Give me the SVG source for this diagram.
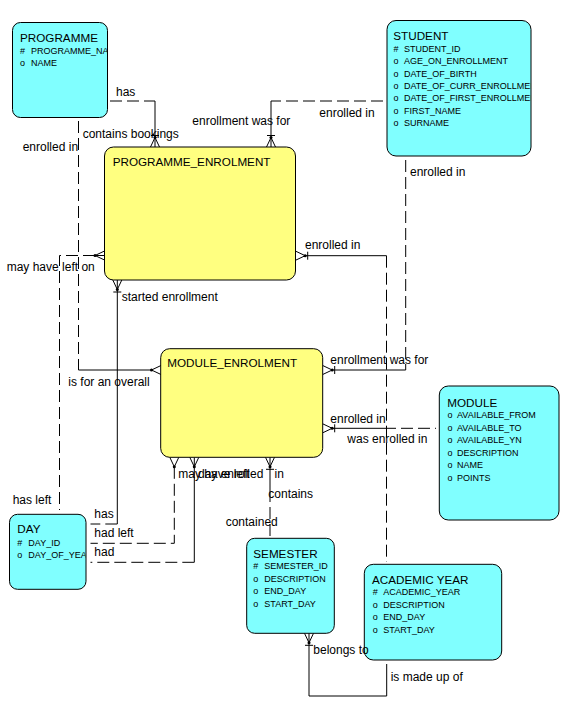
<svg xmlns="http://www.w3.org/2000/svg" width="570" height="705" viewBox="0 0 570 705">
<style>
.ec{fill:#80ffff;stroke:#000;stroke-width:1}
.ey{fill:#ffff80;stroke:#000;stroke-width:1}
text{font-family:"Liberation Sans",Arial,sans-serif;fill:#000}
.t{font-size:11.7px}
.a{font-size:9px}
.l{font-size:12px}
.s{stroke:#000;stroke-width:1;fill:none}
.d{stroke:#000;stroke-width:1;fill:none;stroke-dasharray:12 5}
</style>
<defs>
<clipPath id="cpP"><rect x="12" y="22" width="95" height="95"/></clipPath>
<clipPath id="cpS"><rect x="387" y="20" width="143.5" height="136"/></clipPath>
<clipPath id="cpD"><rect x="9" y="514" width="76.5" height="75"/></clipPath>
</defs>
<rect width="570" height="705" fill="#fff"/>

<g id="connectors">
<!-- PROGRAMME - PE -->
<path class="d" d="M110 101H155"/>
<path class="s" d="M155 101V137.5M150.5 147L155 137.5L159.5 147M155 137.5V147M151 135.5H159"/>
<circle cx="155" cy="137.5" r="1.5"/>
<!-- STUDENT - PE -->
<path class="d" d="M383 101H271"/>
<path class="s" d="M271 101V137.5M266.5 147L271 137.5L275.5 147M271 137.5V147M267 135.5H275"/>
<circle cx="271" cy="137.5" r="1.5"/>
<!-- PROGRAMME - ME -->
<path class="d" d="M78.5 121V370"/>
<path class="s" d="M78.5 370H151.5M161 365.5L151.5 370L161 374.5"/>
<circle cx="151.5" cy="370" r="1.5"/>
<!-- PE - DAY may have left on -->
<path class="d" d="M95 255.5H59.5V510"/>
<path class="s" d="M104.5 251L95 255.5L104.5 260M95 255.5H104.5"/>
<circle cx="95" cy="255.5" r="1.5"/>
<!-- PE - DAY started enrollment -->
<path class="s" d="M117.3 280V524M112.8 280L117.3 289.5L121.8 280M113.3 292H121.3"/>
<circle cx="117.3" cy="289.5" r="1.5"/>
<path class="d" d="M117.3 524H90.5"/>
<!-- STUDENT - ME -->
<path class="d" d="M405.7 160V370"/>
<path class="s" d="M405.7 370H332.2M322.7 365.5L332.2 370L322.7 374.5M334.7 366V374"/>
<circle cx="332.2" cy="370" r="1.5"/>
<!-- PE - ACADEMIC YEAR -->
<path class="s" d="M386.5 255.7H305.2M295.7 251.2L305.2 255.7L295.7 260.2M307.7 251.7V259.7"/>
<circle cx="305.2" cy="255.7" r="1.5"/>
<path class="d" d="M386.5 255.7V562"/>
<!-- ME - MODULE -->
<path class="s" d="M384 428.3H332.2M322.7 423.8L332.2 428.3L322.7 432.8M334.7 424.3V432.3"/>
<circle cx="332.2" cy="428.3" r="1.5"/>
<path class="d" d="M384 428.3H436"/>
<!-- ME - DAY may have left -->
<path class="s" d="M169.8 457.3L174.3 466.8L178.8 457.3"/>
<circle cx="174.3" cy="466.8" r="1.5"/>
<path class="d" d="M174.3 466.8V543.3H90.5"/>
<!-- ME - DAY day enrolled -->
<path class="s" d="M194.3 457.3V562.3M189.8 457.3L194.3 466.8L198.8 457.3"/>
<circle cx="194.3" cy="466.8" r="1.5"/>
<path class="d" d="M194.3 562.3H90.5"/>
<!-- ME - SEMESTER -->
<path class="s" d="M270 457.3V490M265.5 457.3L270 466.8L274.5 457.3M266 469.3H274"/>
<circle cx="270" cy="466.8" r="1.5"/>
<path class="d" d="M270 490V538"/>
<!-- SEMESTER - ACADEMIC YEAR -->
<path class="s" d="M309 633.3V696H386.7V664M304.5 633.3L309 642.8L313.5 633.3M305 645.3H313"/>
<circle cx="309" cy="642.8" r="1.5"/>
</g>

<g id="PROGRAMME">
<rect class="ec" x="12.5" y="22.5" width="95" height="95" rx="8"/>
<text class="t" x="20" y="41.5">PROGRAMME</text>
<g clip-path="url(#cpP)">
<text class="a" x="20" y="54">#</text><text class="a" x="31" y="54">PROGRAMME_NAME</text>
<text class="a" x="20" y="66">o</text><text class="a" x="31" y="66">NAME</text>
</g>
</g>

<g id="STUDENT">
<rect class="ec" x="387" y="20.5" width="144" height="135.5" rx="9"/>
<text class="t" x="393.3" y="40">STUDENT</text>
<g clip-path="url(#cpS)">
<text class="a" x="393.5" y="52">#</text><text class="a" x="404" y="52">STUDENT_ID</text>
<text class="a" x="393.5" y="64.3">o</text><text class="a" x="404" y="64.3">AGE_ON_ENROLLMENT</text>
<text class="a" x="393.5" y="76.6">o</text><text class="a" x="404" y="76.6">DATE_OF_BIRTH</text>
<text class="a" x="393.5" y="88.9">o</text><text class="a" x="404" y="88.9">DATE_OF_CURR_ENROLLMENT</text>
<text class="a" x="393.5" y="101.2">o</text><text class="a" x="404" y="101.2">DATE_OF_FIRST_ENROLLMENT</text>
<text class="a" x="393.5" y="113.5">o</text><text class="a" x="404" y="113.5">FIRST_NAME</text>
<text class="a" x="393.5" y="125.8">o</text><text class="a" x="404" y="125.8">SURNAME</text>
</g>
</g>

<g id="PROGRAMME_ENROLMENT">
<rect class="ey" x="104.5" y="147" width="191" height="133" rx="9"/>
<text class="t" x="112.7" y="166">PROGRAMME_ENROLMENT</text>
</g>

<g id="MODULE_ENROLMENT">
<rect class="ey" x="160.7" y="348.7" width="162" height="108.6" rx="9"/>
<text class="t" x="167.3" y="367">MODULE_ENROLMENT</text>
</g>

<g id="MODULE">
<rect class="ec" x="439.3" y="386" width="119.7" height="134" rx="9"/>
<text class="t" x="447.3" y="407">MODULE</text>
<text class="a" x="447.5" y="418">o</text><text class="a" x="457" y="418">AVAILABLE_FROM</text>
<text class="a" x="447.5" y="430.6">o</text><text class="a" x="457" y="430.6">AVAILABLE_TO</text>
<text class="a" x="447.5" y="443.2">o</text><text class="a" x="457" y="443.2">AVAILABLE_YN</text>
<text class="a" x="447.5" y="455.8">o</text><text class="a" x="457" y="455.8">DESCRIPTION</text>
<text class="a" x="447.5" y="468.4">o</text><text class="a" x="457" y="468.4">NAME</text>
<text class="a" x="447.5" y="481">o</text><text class="a" x="457" y="481">POINTS</text>
</g>

<g id="DAY">
<rect class="ec" x="9.5" y="514.3" width="76.5" height="75" rx="8"/>
<text class="t" x="17.3" y="533">DAY</text>
<g clip-path="url(#cpD)">
<text class="a" x="17.3" y="545.6">#</text><text class="a" x="28.3" y="545.6">DAY_ID</text>
<text class="a" x="17.3" y="557.6">o</text><text class="a" x="28.3" y="557.6">DAY_OF_YEAR</text>
</g>
</g>

<g id="SEMESTER">
<rect class="ec" x="246.7" y="538.3" width="87.6" height="95" rx="8"/>
<text class="t" x="253.3" y="558">SEMESTER</text>
<text class="a" x="253.3" y="569.3">#</text><text class="a" x="264.3" y="569.3">SEMESTER_ID</text>
<text class="a" x="253.3" y="581.7">o</text><text class="a" x="264.3" y="581.7">DESCRIPTION</text>
<text class="a" x="253.3" y="594.1">o</text><text class="a" x="264.3" y="594.1">END_DAY</text>
<text class="a" x="253.3" y="606.5">o</text><text class="a" x="264.3" y="606.5">START_DAY</text>
</g>

<g id="ACADEMIC_YEAR">
<rect class="ec" x="364.3" y="564.3" width="137.4" height="95.7" rx="9"/>
<text class="t" x="372" y="584">ACADEMIC YEAR</text>
<text class="a" x="372.7" y="595.3">#</text><text class="a" x="383.3" y="595.3">ACADEMIC_YEAR</text>
<text class="a" x="372.7" y="607.8">o</text><text class="a" x="383.3" y="607.8">DESCRIPTION</text>
<text class="a" x="372.7" y="620.3">o</text><text class="a" x="383.3" y="620.3">END_DAY</text>
<text class="a" x="372.7" y="632.8">o</text><text class="a" x="383.3" y="632.8">START_DAY</text>
</g>

<g id="labels">
<text class="l" x="116" y="96">has</text>
<text class="l" x="82.7" y="138">contains bookings</text>
<text class="l" x="22.7" y="151">enrolled in</text>
<text class="l" x="192.3" y="125">enrollment was for</text>
<text class="l" x="319.3" y="117">enrolled in</text>
<text class="l" x="410" y="176">enrolled in</text>
<text class="l" x="305" y="248.5">enrolled in</text>
<text class="l" x="6.7" y="271">may have left on</text>
<text class="l" x="121.7" y="301">started enrollment</text>
<text class="l" x="330.3" y="364">enrollment was for</text>
<text class="l" x="68.3" y="386">is for an overall</text>
<text class="l" x="330.3" y="422.5">enrolled in</text>
<text class="l" x="347.3" y="443">was enrolled in</text>
<text class="l" x="178.3" y="478">may have left</text>
<text class="l" x="198" y="478">day enrolled</text>
<text class="l" x="274.5" y="478">in</text>
<text class="l" x="268.3" y="498">contains</text>
<text class="l" x="12.7" y="503.5">has left</text>
<text class="l" x="94.3" y="517.5">has</text>
<text class="l" x="225.7" y="526">contained</text>
<text class="l" x="94.3" y="536.5">had left</text>
<text class="l" x="94.3" y="555.5">had</text>
<text class="l" x="313.3" y="653.5">belongs to</text>
<text class="l" x="390.7" y="681">is made up of</text>
</g>
</svg>
